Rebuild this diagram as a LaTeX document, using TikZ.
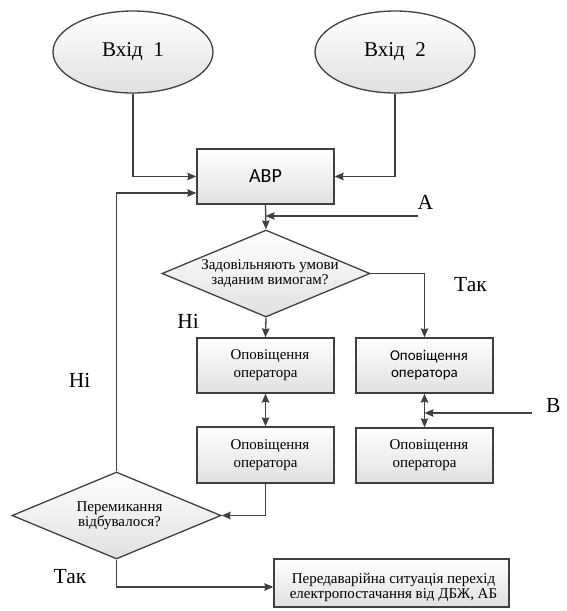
\documentclass[tikz,border=0pt]{standalone}
\usepackage{fontspec}
\setmainfont{Liberation Serif}
\newfontfamily\tms{Liberation Serif}
\newfontfamily\calib{Carlito}
\usetikzlibrary{shapes.geometric,arrows.meta,calc}
\begin{document}
\begin{tikzpicture}[x=1pt,y=-1pt,
 edge/.style={draw=black!75, line width=1.3pt},
 blk/.style={edge, rectangle, top color=white, bottom color=black!12, minimum width=137pt, minimum height=55pt, inner sep=0pt, font=\tms\fontsize{15}{18}\selectfont, align=center},
 oval/.style={edge, ellipse, top color=white, bottom color=black!12, minimum width=160pt, minimum height=82pt, inner sep=0pt, font=\tms\fontsize{21}{24}\selectfont},
 dec/.style={edge, diamond, top color=white, bottom color=black!12, inner sep=0pt, minimum width=208pt, minimum height=87pt},
 dtext/.style={font=\tms\fontsize{15}{15.5}\selectfont, align=center, inner sep=0pt},
 lbl/.style={font=\tms\fontsize{21.5}{24}\selectfont, inner sep=0pt},
 tip/.style={-{Stealth[length=9pt,width=7.5pt,inset=1pt]}},
 arr/.style={edge, tip},
 darr/.style={edge, {Stealth[length=9pt,width=7.5pt,inset=1pt]}-{Stealth[length=9pt,width=7.5pt,inset=1pt]}}
]
\useasboundingbox (0,0) rectangle (566,611);

\node[oval] (in1) at (133,52) {Вхід\ \ 1};
\node[oval] (in2) at (395,52) {Вхід\ \ 2};
\node[blk, font=\calib\fontsize{20}{22}\selectfont] (avr) at (265.5,176.5) {АВР};
\node[dec, label={[dtext, xshift=4pt]center:{Задовільняють умови\\заданим вимогам?}}] (d1) at (266,273.5) {};
\node[blk] (b1) at (265.5,365.5) {\hspace*{9pt}Оповіщення\\оператора};
\node[blk, font=\calib\fontsize{15}{17}\selectfont] (b2) at (424.5,365.5) {\hspace*{9pt}Оповіщення\\оператора};
\node[blk, minimum height=56pt] (b3) at (265.5,455) {\hspace*{9pt}Оповіщення\\оператора};
\node[blk] (b4) at (424.5,455.5) {\hspace*{9pt}Оповіщення\\оператора};
\node[dec, minimum width=209pt, label={[dtext, xshift=3pt]center:{Перемикання\\відбувалося?}}] (d2) at (116.5,515.5) {};
\node[blk, minimum width=235pt, minimum height=48pt, label={[dtext, yshift=-4.5pt, xshift=2pt, font=\tms\fontsize{15}{12.5}\selectfont]center:{Передаварійна ситуація перехід\\електропостачання від ДБЖ, АБ}}] (b5) at (391.5,583) {};

\node[lbl] (tak1) at (470.5,285) {Так};
\node[lbl] (ni1) at (188,321) {Ні};
\node[lbl] (ni2) at (79.5,380) {Ні};
\node[lbl] (tak2) at (70,577) {Так};
\node[lbl] (alab) at (425.5,202) {A};
\node[lbl, anchor=west] (blab) at (546,405) {B};

\coordinate (ain) at (418,216);
\coordinate (bin) at (532,413);

\draw[arr] (in1.south) |- (avr.west);
\draw[arr] (in2.south) |- (avr.east);
\draw[arr] (avr.south) -- (d1.north);
\draw[arr] (ain) -- (avr.south |- ain);
\draw[arr] (d1.east) -| (b2.north);
\draw[arr] (d1.south) -- (b1.north);
\draw[darr] (b1.south) -- (b3.north);
\draw[darr] (b2.south) -- (b4.north);
\draw[arr] (bin) -- (b2.south |- bin);
\draw[arr] (b3.south) |- (d2.east);
\draw[arr] (d2.north) |- ([yshift=-16.5pt]avr.west);
\draw[arr] (d2.south) |- ([yshift=-4pt]b5.west);
\end{tikzpicture}
\end{document}
